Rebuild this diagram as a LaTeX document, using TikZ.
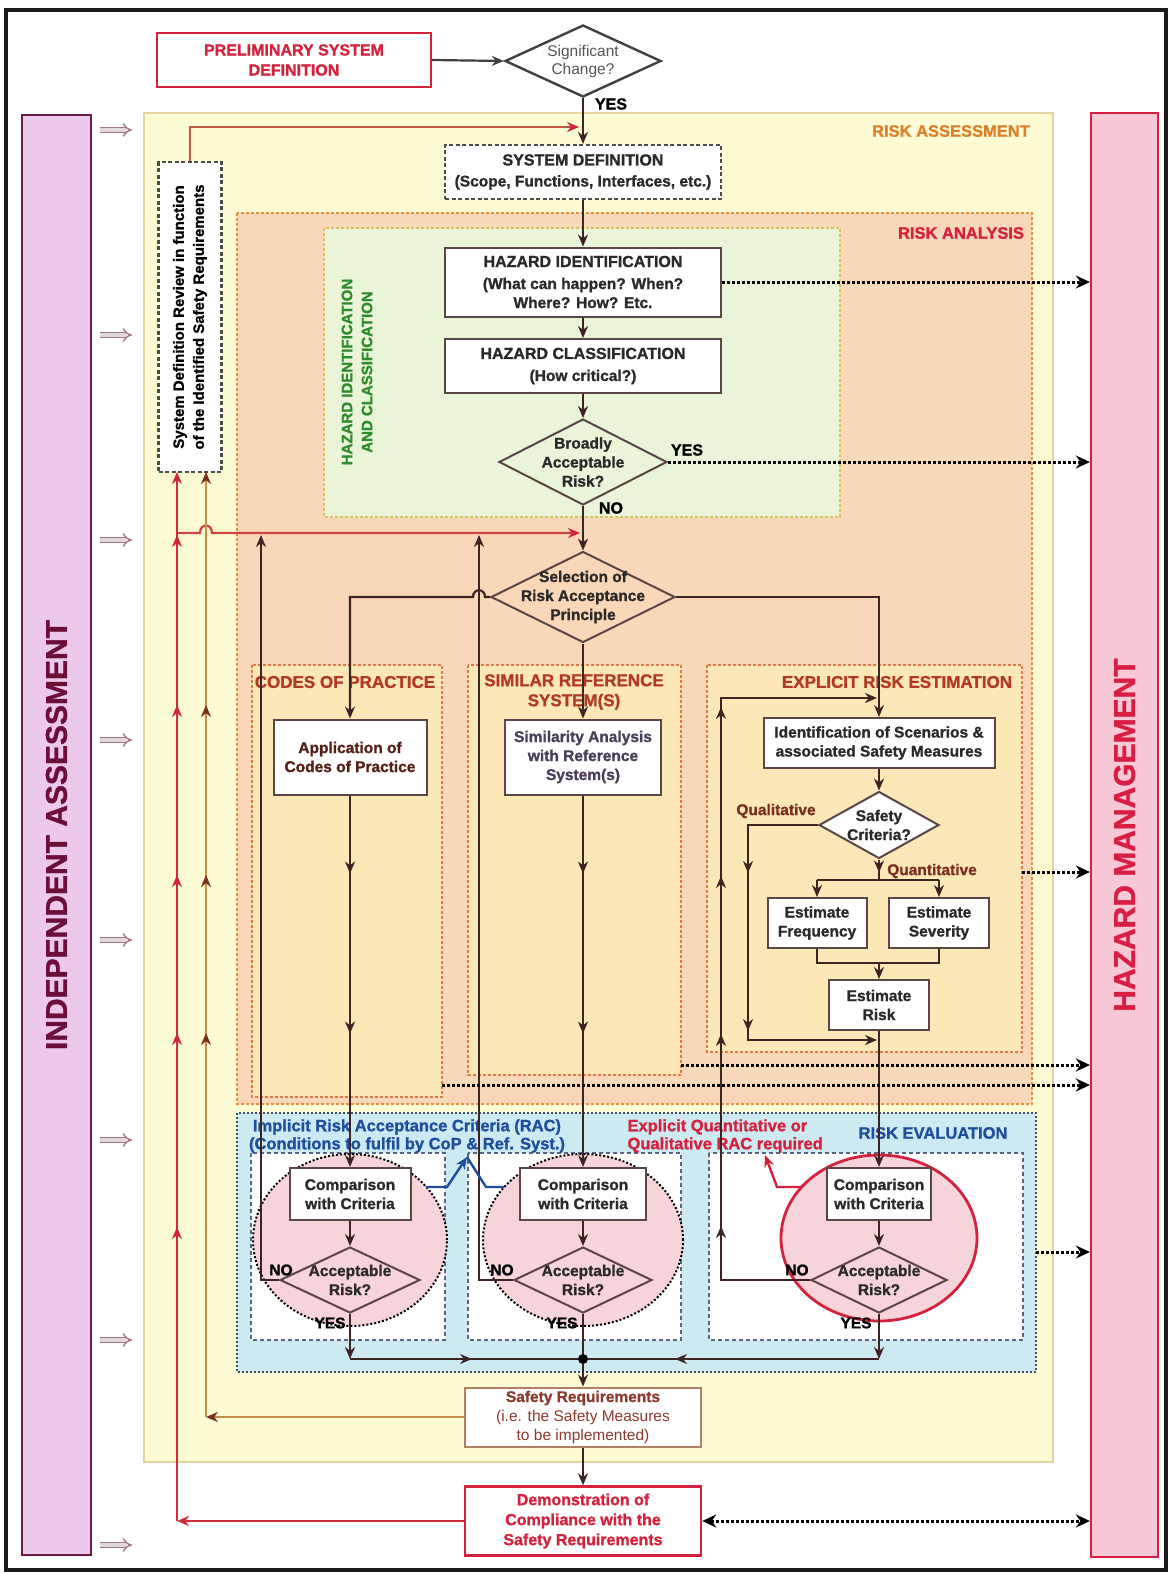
\documentclass[tikz,border=0pt]{standalone}
\usepackage{fontspec}
\setmainfont{Liberation Sans}[BoldFeatures={FakeBold=1.2}]
\setsansfont{Liberation Sans}[BoldFeatures={FakeBold=1.2}]
\usetikzlibrary{arrows.meta,shapes.geometric,decorations.markings}
\definecolor{raFill}{HTML}{FDFBD4}
\definecolor{raDraw}{HTML}{E3D3A0}
\definecolor{ranFill}{HTML}{F9D8B9}
\definecolor{ranDraw}{HTML}{E6903E}
\definecolor{hicFill}{HTML}{E9F4D8}
\definecolor{hicDraw}{HTML}{D8C05A}
\definecolor{subFill}{HTML}{FCE8B6}
\definecolor{subDraw}{HTML}{DE7848}
\definecolor{reFill}{HTML}{CDEAF3}
\definecolor{reDraw}{HTML}{3C4C6C}
\definecolor{rebDraw}{HTML}{56667E}
\definecolor{cirFill}{HTML}{F7D4D9}
\definecolor{iaFill}{HTML}{ECC9EA}
\definecolor{iaDraw}{HTML}{6A1A44}
\definecolor{iaText}{HTML}{6B0F3A}
\definecolor{hmFill}{HTML}{F8C8D7}
\definecolor{hmDraw}{HTML}{D81E42}
\definecolor{redT}{HTML}{D4213D}
\definecolor{orangeT}{HTML}{D9822B}
\definecolor{greenT}{HTML}{2E8B2E}
\definecolor{blueT}{HTML}{1F4E9C}
\definecolor{brickT}{HTML}{B33A22}
\definecolor{brownT}{HTML}{7A2E1E}
\definecolor{lineC}{HTML}{3B2422}
\definecolor{boxDraw}{HTML}{5A4646}
\definecolor{txt}{HTML}{2A2A2A}
\definecolor{simT}{HTML}{4A3E58}
\definecolor{redL}{HTML}{D02C3C}
\definecolor{tanL}{HTML}{C88D48}
\definecolor{hollowC}{HTML}{A07888}
\definecolor{grayT}{HTML}{555555}
\definecolor{sreqT}{HTML}{8B3A2E}
\definecolor{sreqD}{HTML}{B08060}
\tikzset{
  mytip/.tip={Stealth[length=12pt,width=10pt]},
  tx/.style={font=\fontsize{15.5}{19}\selectfont\bfseries, text=txt, align=center},
  box/.style={tx, rectangle, draw=boxDraw, line width=2pt, fill=white, inner sep=1pt},
  dia/.style={diamond, draw=boxDraw, line width=2pt, inner sep=0pt},
  dtx/.style={tx, inner sep=0pt},
  flow/.style={draw=lineC, line width=2.2pt},
  arr/.style={flow, -mytip},
  dots/.style={draw=black, line width=3pt, dash pattern=on 3pt off 2pt, -{Stealth[length=14pt,width=13pt]}},
  midtip/.style={postaction={decorate, decoration={markings, mark=at position #1 with {\arrow{mytip}}}}},
  midtipc/.style 2 args={postaction={decorate, decoration={markings, mark=at position #1 with {\arrow{Stealth[length=12pt,width=10pt,color=#2]}}}}},
  area/.style={line width=1.6pt, dash pattern=on 3pt off 2pt},
  hdr/.style={font=\fontsize{16.5}{20}\selectfont\bfseries, inner sep=0pt},
  lab/.style={font=\fontsize{15.5}{19}\selectfont\bfseries, inner sep=0pt},
}
\begin{document}
\begin{tikzpicture}[x=1pt,y=-1pt]
\useasboundingbox (0,0) rectangle (1170,1574);
\fill[white] (0,0) rectangle (1170,1574);
\draw[line width=3.5pt, black!90] (6,10) rectangle (1166,1570);

% side bars
\node[draw=iaDraw, fill=iaFill, line width=2.2pt, minimum width=69pt, minimum height=1440pt, inner sep=0pt] (ia) at (56.5,835) {};
\node[rotate=90, font=\fontsize{30}{36}\selectfont\bfseries, text=iaText] (iat) at (ia) {INDEPENDENT ASSESSMENT};
\node[draw=hmDraw, fill=hmFill, line width=2.2pt, minimum width=67pt, minimum height=1444pt, inner sep=0pt] (hm) at (1124.5,835) {};
\node[rotate=90, font=\fontsize{30}{36}\selectfont\bfseries, text=hmDraw] (hmt) at (hm) {HAZARD MANAGEMENT};
\foreach \yy in {130,335,540,740,940,1140,1340,1545}
  \draw[hollowC, line width=1.4pt, double=hollowC!30, double distance=3.2pt, -{Implies}] (100,\yy) -- (132,\yy);

% areas
\draw[raDraw, fill=raFill, line width=1.6pt] (144,113) rectangle (1053,1462);
\node[hdr, text=orangeT] (lra) at (951,131) {RISK ASSESSMENT};
\draw[area, ranDraw, fill=ranFill] (237,213) rectangle (1032,1104);
\node[hdr, text=redT] (lran) at (961,233) {RISK ANALYSIS};
\draw[area, hicDraw, fill=hicFill] (324,228) rectangle (840,517);
\node[rotate=90, font=\fontsize{15}{20}\selectfont\bfseries, text=greenT, align=center] (lhic) at (357,372) {HAZARD IDENTIFICATION\\AND CLASSIFICATION};
\draw[area, subDraw, fill=subFill] (252,665) rectangle (442,1097);
\draw[area, subDraw, fill=subFill] (468,665) rectangle (681,1075);
\draw[area, subDraw, fill=subFill] (707,665) rectangle (1022,1052);
\node[font=\fontsize{17}{20}\selectfont\bfseries, text=brickT] (lcop) at (345,682) {CODES OF PRACTICE};
\node[font=\fontsize{17}{20}\selectfont\bfseries, text=brickT, align=center] (lsrs) at (574,692) {SIMILAR REFERENCE\\SYSTEM(S)};
\node[font=\fontsize{17}{20}\selectfont\bfseries, text=brickT] (lere) at (897,682) {EXPLICIT RISK ESTIMATION};

% risk evaluation
\draw[reDraw, fill=reFill, line width=2pt, dash pattern=on 2pt off 2pt] (237,1113) rectangle (1036,1372);
\draw[rebDraw, fill=white, line width=1.5pt, dash pattern=on 4pt off 3pt] (251,1153) rectangle (445,1340);
\draw[rebDraw, fill=white, line width=1.5pt, dash pattern=on 4pt off 3pt] (468,1153) rectangle (681,1340);
\draw[rebDraw, fill=white, line width=1.5pt, dash pattern=on 4pt off 3pt] (709,1153) rectangle (1023,1340);
\node[font=\fontsize{16.5}{18}\selectfont\bfseries, text=blueT, align=center] (limp) at (407,1136) {Implicit Risk Acceptance Criteria (RAC)\\(Conditions to fulfil by CoP \& Ref. Syst.)};
\node[anchor=west, align=left, font=\fontsize{16.5}{18}\selectfont\bfseries, text=redT] (lexp) at (624,1136) {Explicit Quantitative or\\Qualitative RAC required};
\node[hdr, text=blueT] (lre) at (933,1133) {RISK EVALUATION};
\node[ellipse, draw=black, fill=cirFill, line width=2pt, dash pattern=on 2pt off 2pt, minimum width=194pt, minimum height=172pt, inner sep=0pt] (c1) at (350,1240) {};
\node[ellipse, draw=black, fill=cirFill, line width=2pt, dash pattern=on 2pt off 2pt, minimum width=200pt, minimum height=172pt, inner sep=0pt] (c2) at (583,1240) {};
\node[ellipse, draw=redT, fill=cirFill, line width=2.8pt, minimum width=196pt, minimum height=166pt, inner sep=0pt] (c3) at (879,1238) {};

% nodes
\node[box, draw=redT, text=redT, line width=2.2pt, minimum width=274pt, minimum height=54pt, font=\fontsize{16}{20}\selectfont\bfseries] (psd) at (294,60) {PRELIMINARY SYSTEM\\DEFINITION};
\node[dia, draw=black!75, line width=2.4pt, fill=white, minimum width=156pt, minimum height=72pt] (sc) at (583,61) {};
\node[font=\fontsize{15.5}{18}\selectfont, text=grayT, align=center, inner sep=0pt] (sct) at (sc) {Significant\\Change?};
\node[box, draw=black!70, dash pattern=on 4pt off 2.5pt, line width=2.2pt, minimum width=276pt, minimum height=54pt] (sd) at (583,172) {{\fontsize{16}{20}\selectfont SYSTEM DEFINITION}\\[2pt](Scope, Functions, Interfaces, etc.)};
\node[draw=black!70, fill=white, dash pattern=on 4pt off 2.5pt, line width=2.2pt, minimum width=63pt, minimum height=310pt, inner sep=0pt] (sdr) at (190,317) {};
\node[rotate=90, tx, text=black, font=\fontsize{15}{20}\selectfont\bfseries] (sdrt) at (sdr) {System Definition Review in function\\of the Identified Safety Requirements};
\node[box, minimum width=276pt, minimum height=69pt] (hi) at (583,282) {{\fontsize{16}{20}\selectfont HAZARD IDENTIFICATION}\\[3pt](What can happen? When?\\Where? How? Etc.};
\node[box, minimum width=276pt, minimum height=54pt] (hc) at (583,366) {{\fontsize{16}{20}\selectfont HAZARD CLASSIFICATION}\\[3pt](How critical?)};
\node[dia, minimum width=168pt, minimum height=86pt] (bar) at (583,462) {};
\node[dtx] (bart) at (bar) {Broadly\\Acceptable\\Risk?};
\node[dia, minimum width=184pt, minimum height=91pt] (sel) at (583,597) {};
\node[dtx] (selt) at (sel) {Selection of\\Risk Acceptance\\Principle};
\node[box, text=brownT!70!black, minimum width=153pt, minimum height=75pt] (acop) at (350,757) {Application of\\Codes of Practice};
\node[box, text=simT, minimum width=156pt, minimum height=75pt] (sim) at (583,757) {Similarity Analysis\\with Reference\\System(s)};
\node[box, minimum width=231pt, minimum height=50pt] (ids) at (879,743) {Identification of Scenarios \&\\associated Safety Measures};
\node[dia, fill=white, minimum width=120pt, minimum height=67pt] (scd) at (879,825) {};
\node[dtx] (scdt) at (scd) {Safety\\Criteria?};
\node[box, minimum width=99pt, minimum height=50pt] (ef) at (817,923) {Estimate\\Frequency};
\node[box, minimum width=100pt, minimum height=50pt] (es) at (939,923) {Estimate\\Severity};
\node[box, minimum width=100pt, minimum height=50pt] (er) at (879,1005) {Estimate\\Risk};
\node[box, minimum width=121pt, minimum height=52pt] (cmp1) at (350,1194) {Comparison\\with Criteria};
\node[box, minimum width=126pt, minimum height=52pt] (cmp2) at (583,1194) {Comparison\\with Criteria};
\node[box, minimum width=104pt, minimum height=52pt] (cmp3) at (879,1194) {Comparison\\with Criteria};
\node[dia, minimum width=140pt, minimum height=66pt] (ar1) at (350,1280) {};
\node[dtx] (ar1t) at (ar1) {Acceptable\\Risk?};
\node[dia, minimum width=138pt, minimum height=66pt] (ar2) at (583,1280) {};
\node[dtx] (ar2t) at (ar2) {Acceptable\\Risk?};
\node[dia, minimum width=136pt, minimum height=66pt] (ar3) at (879,1280) {};
\node[dtx] (ar3t) at (ar3) {Acceptable\\Risk?};
\node[circle, fill=black, inner sep=0pt, minimum size=10pt] (dot) at (583,1359) {};
\node[box, draw=sreqD, text=sreqT, minimum width=236pt, minimum height=59pt, font=\fontsize{15.5}{19}\selectfont] (sreq) at (583,1417) {\textbf{Safety Requirements}\\(i.e. the Safety Measures\\to be implemented)};
\node[box, draw=redT, text=redT, line width=2.4pt, minimum width=236pt, minimum height=69pt, font=\fontsize{16}{20}\selectfont\bfseries] (demo) at (583,1521) {Demonstration of\\Compliance with the\\Safety Requirements};

% labels
\node[lab, font=\fontsize{16}{19}\selectfont\bfseries] (ly0) at (611,104) {YES};
\node[lab, font=\fontsize{16}{19}\selectfont\bfseries] (ly1) at (687,450) {YES};
\node[lab, font=\fontsize{16}{19}\selectfont\bfseries] (ln1) at (611,508) {NO};
\node[lab, text=brownT] (lql) at (776,811) {Qualitative};
\node[lab, text=brownT] (lqn) at (932,871) {Quantitative};
\node[lab] (lno1) at (281,1270) {NO};
\node[lab] (lno2) at (502,1270) {NO};
\node[lab] (lno3) at (797,1270) {NO};
\node[lab] (lye1) at (330,1323) {YES};
\node[lab] (lye2) at (562,1323) {YES};
\node[lab] (lye3) at (856,1323) {YES};

% connectors: top
\draw[arr, draw=black!75] (psd.east) -- (sc.west);
\draw[arr] (sc.south) -- (sd.north);
\coordinate (t1) at (190,127); \coordinate (t2) at (579,127);
\draw[draw=brickT!85, line width=2.2pt, -{Stealth[length=12pt,width=10pt,color=redT]}] (sdr.north) -- (t1) -- (t2);
\draw[arr] (sd.south) -- (hi.north);
\draw[arr] (hi.south) -- (hc.north);
\draw[arr] (hc.south) -- (bar.north);
\draw[arr] (bar.south) -- (sel.north);
\draw[dots] (hi.east) -- (hi.east -| hm.west);
\draw[dots] (bar.east) -- (bar.east -| hm.west);

% selection branches
\draw[arr] (sel.west) -- (485,597) .. controls (485,588) and (473,588) .. (473,597) -- (350,597) -- (acop.north);
\draw[arr] (sel.south) -- (sim.north);
\draw[arr] (sel.east) -- (879,597) -- (ids.north);

% explicit risk estimation
\draw[arr] (ids.south) -- (scd.north);
\coordinate (q0) at (879,880); \coordinate (q1) at (817,880); \coordinate (q2) at (939,880);
\draw[flow, midtip=13pt] (scd.south) -- (q0);
\draw[flow] (q1) -- (q2);
\draw[arr] (q1) -- (ef.north);
\draw[arr] (q2) -- (es.north);
\coordinate (j1) at (817,963); \coordinate (j2) at (939,963); \coordinate (j0) at (879,963);
\draw[flow] (ef.south) -- (j1) -- (j2) -- (es.south);
\draw[arr] (j0) -- (er.north);
\coordinate (k1) at (748,825); \coordinate (k2) at (748,1040); \coordinate (k3) at (877,1040);
\draw[arr, midtip=118pt, midtip=276pt] (scd.west) -- (k1) -- (k2) -- (k3);
\draw[arr] (er.south) -- (cmp3.north);

% codes / similar
\draw[arr, midtip=78pt, midtip=238pt] (acop.south) -- (cmp1.north);
\draw[arr, midtip=78pt, midtip=238pt] (sim.south) -- (cmp2.north);
\draw[arr] (cmp1.south) -- (ar1.north);
\draw[arr] (cmp2.south) -- (ar2.north);
\draw[arr] (cmp3.south) -- (ar3.north);

% NO loops
\coordinate (n1) at (261,1280); \coordinate (n1t) at (261,535);
\draw[arr] (ar1.west) -- (n1) -- (n1t);
\coordinate (n2) at (479,1280); \coordinate (n2t) at (479,535);
\draw[arr] (ar2.west) -- (n2) -- (n2t);
\coordinate (n3) at (721,1280); \coordinate (n3t) at (721,698); \coordinate (n3e) at (877,698);
\draw[arr, midtip=143pt, midtip=335pt, midtip=493pt, midtip=662pt] (ar3.west) -- (n3) -- (n3t) -- (n3e);

% red feedback horizontal
\coordinate (h0) at (177,533); \coordinate (h1) at (580,533);
\draw[draw=redL!75!tanL, line width=2.2pt, -{Stealth[length=12pt,width=10pt,color=redT]}] (h0) -- (200,533) .. controls (200,523) and (212,523) .. (212,533) -- (h1);

% YES joins
\coordinate (y1) at (350,1359); \coordinate (y3) at (879,1359);
\draw[arr] (ar1.south) -- (y1);
\draw[arr] (ar3.south) -- (y3);
\draw[flow] (ar2.south) -- (dot);
\draw[flow, midtip=122pt] (y1) -- (dot);
\draw[flow, midtip=204pt] (y3) -- (dot);
\draw[arr] (dot) -- (sreq.north);
\draw[arr] (sreq.south) -- (demo.north);

% RAC pointers
\coordinate (b1) at (426,1187); \coordinate (b2) at (504,1187); \coordinate (b0) at (467,1157);
\draw[blueT, line width=2.4pt, -{Stealth[length=12pt,width=10pt]}] (b1) -- (447,1187) -- (b0);
\draw[blueT, line width=2.4pt] (b2) -- (486,1187) -- (b0);
\coordinate (r1) at (802,1187); \coordinate (r0) at (765,1155);
\draw[redT, line width=2.4pt, -{Stealth[length=12pt,width=10pt]}] (r1) -- (777,1187) -- (r0);

% left return lines
\coordinate (L1) at (177,1521); \coordinate (L1t) at (177,472);
\draw[redL, line width=2.2pt, -{Stealth[length=12pt,width=10pt]}] (demo.west) -- (L1);
\draw[redL, line width=2.2pt, -{Stealth[length=12pt,width=10pt,color=redT]}, midtipc={294pt}{redT}, midtipc={488pt}{redT}, midtipc={646pt}{redT}, midtipc={816pt}{redT}, midtipc={986pt}{redT}] (L1) -- (L1t);
\coordinate (L2) at (206,1417); \coordinate (L2t) at (206,472);
\draw[tanL, line width=2.2pt, -{Stealth[length=12pt,width=10pt,color=brownT]}] (sreq.west) -- (L2);
\draw[tanL, line width=2.2pt, -{Stealth[length=12pt,width=10pt,color=brownT]}, midtipc={384pt}{brownT}, midtipc={542pt}{brownT}, midtipc={712pt}{brownT}] (L2) -- (L2t);

% dotted links to hazard management
\coordinate (d3) at (1022,872); \draw[dots] (d3) -- (d3 -| hm.west);
\coordinate (d4) at (681,1065); \draw[dots] (d4) -- (d4 -| hm.west);
\coordinate (d5) at (442,1085); \draw[dots] (d5) -- (d5 -| hm.west);
\coordinate (d6) at (1036,1252); \draw[dots] (d6) -- (d6 -| hm.west);
\draw[dots, {Stealth[length=14pt,width=13pt]}-{Stealth[length=14pt,width=13pt]}] (demo.east) -- (demo.east -| hm.west);
\end{tikzpicture}
\end{document}
